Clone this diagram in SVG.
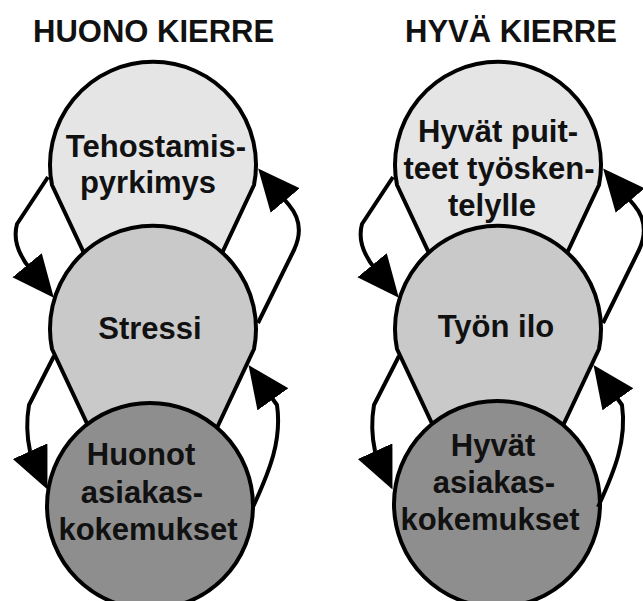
<svg xmlns="http://www.w3.org/2000/svg" width="643" height="601" viewBox="0 0 643 601">
<style>
text{font-family:"Liberation Sans",Arial,sans-serif;font-weight:bold;font-size:31px;fill:#111}
.t{text-anchor:middle}
.n{stroke:#000;stroke-width:4;stroke-linejoin:round}
.c1{fill:#e5e5e6}
.c2{fill:#c9c9c9}
.c3{fill:#8e8e8e}
.cn{fill:none;stroke:#000;stroke-width:4;stroke-linecap:butt;stroke-linejoin:round;marker-end:url(#ah)}
</style>
<defs>
<marker id="ah" markerUnits="userSpaceOnUse" markerWidth="44" markerHeight="40" refX="36" refY="19" orient="auto" viewBox="0 0 44 40">
<path d="M0,0 L42,19 L0,38 Z" fill="#000"/>
</marker>
</defs>
<rect width="643" height="601" fill="#fff"/>
<g id="titles">
<text x="33" y="42">HUONO KIERRE</text>
<text x="405" y="42">HYVÄ KIERRE</text>
</g>
<g id="huono-top">
<path class="n c1" d="M52,185 A103,103 0 1 1 254,185 L153,400 Z"/>
<text class="t" x="156" y="157">Tehostamis-</text>
<text class="t" x="148" y="193">pyrkimys</text>
</g>
<g id="huono-mid">
<path class="n c2" d="M52,349 A103,103 0 1 1 254,349 L153,564 Z"/>
<text class="t" x="150" y="339">Stressi</text>
</g>
<g id="huono-bottom">
<circle class="n c3" cx="150" cy="506" r="103"/>
<text class="t" x="141" y="465">Huonot</text>
<text class="t" x="142" y="503">asiakas-</text>
<text class="t" x="148" y="540">kokemukset</text>
</g>
<g id="hyva-top">
<path class="n c1" d="M397,185 A103,103 0 1 1 599,185 L498,400 Z"/>
<text class="t" x="498" y="142">Hyvät puit-</text>
<text class="t" x="499" y="179">teet työsken-</text>
<text class="t" x="492" y="216">telylle</text>
</g>
<g id="hyva-mid">
<path class="n c2" d="M397,349 A103,103 0 1 1 599,349 L498,564 Z"/>
<text class="t" x="496" y="337">Työn ilo</text>
</g>
<g id="hyva-bottom">
<circle class="n c3" cx="497" cy="504" r="103"/>
<text class="t" x="493" y="456">Hyvät</text>
<text class="t" x="494" y="493">asiakas-</text>
<text class="t" x="490" y="530">kokemukset</text>
</g>
<g id="connectors">
<path class="cn" d="M48,177 L17,224 Q11,246 31,270 L50,293"/>
<path class="cn" d="M258,323 L294,250 C302,233 300,218 289,205 L262,173"/>
<path class="cn" d="M54,356 L29,405 Q25,428 30,451 L45,484"/>
<path class="cn" d="M253,507 C270,470 282,440 277,405 L252,370"/>
<path class="cn" d="M393,177 L362,224 Q356,246 376,270 L395,293"/>
<path class="cn" d="M603,323 L639,250 C647,233 645,218 634,205 L607,173"/>
<path class="cn" d="M399,356 L374,405 Q370,428 375,451 L390,484"/>
<path class="cn" d="M598,507 C615,470 627,440 622,405 L597,370"/>
</g>
</svg>
